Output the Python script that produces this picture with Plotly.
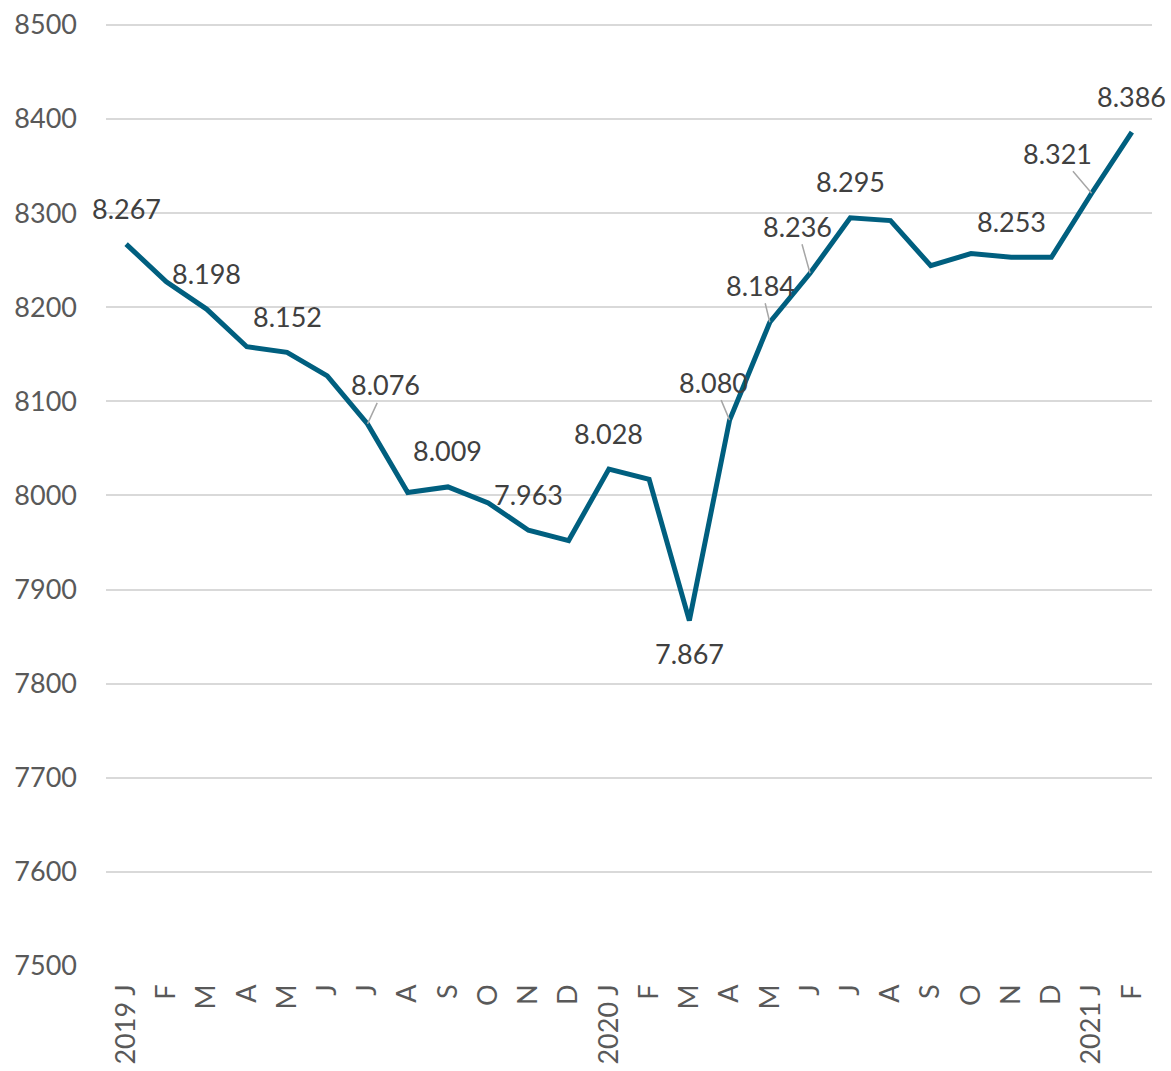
import plotly.graph_objects as go

# Monthly series, Jan 2019 - Feb 2021
months = ["2019 J", "F", "M", "A", "M", "J", "J", "A", "S", "O", "N", "D",
          "2020 J", "F", "M", "A", "M", "J", "J", "A", "S", "O", "N", "D",
          "2021 J", "F"]
values = [8267, 8227, 8198, 8158, 8152, 8127, 8076, 8003, 8009, 7992, 7963, 7952,
          8028, 8017, 7867, 8080, 8184, 8236, 8295, 8292, 8244, 8257, 8253, 8253,
          8321, 8386]

# Points that carry a value label
plain_above = [0, 2, 4, 8, 10, 12, 18, 22, 25]
plain_below = [14]
# label index -> (dx, dy) pixel offset of the label from its point, drawn with a leader line
leader = {6: (18, -39), 15: (-16, -38), 16: (-9, -37), 17: (-13, -47), 24: (-34, -40)}

FONT = "Lato"
x = list(range(len(months)))


def fmt(v):
    return f"{v:,}".replace(",", ".")


fig = go.Figure()
fig.add_trace(go.Scatter(
    x=x, y=values, mode="lines",
    line=dict(color="#005F7F", width=5),
    hoverinfo="skip", showlegend=False,
))

annotations = []
for i in plain_above:
    annotations.append(dict(x=i, y=values[i], text=fmt(values[i]), showarrow=False,
                            yshift=36, font=dict(family=FONT, size=27, color="#404040")))
for i in plain_below:
    annotations.append(dict(x=i, y=values[i], text=fmt(values[i]), showarrow=False,
                            yshift=-33, font=dict(family=FONT, size=27, color="#404040")))
for i, (dx, dy) in leader.items():
    annotations.append(dict(x=i, y=values[i], text=fmt(values[i]), showarrow=True,
                            ax=dx, ay=dy, arrowhead=0, arrowwidth=1.5,
                            arrowcolor="#A6A6A6", standoff=0,
                            font=dict(family=FONT, size=27, color="#404040")))

fig.update_layout(
    width=1171, height=1071,
    margin=dict(l=106, r=19, t=22, b=105),
    plot_bgcolor="white", paper_bgcolor="white",
    annotations=annotations,
    xaxis=dict(
        range=[-0.5, len(months) - 0.5], automargin=False,
        tickmode="array", tickvals=x, ticktext=months,
        tickangle=-90, showgrid=False, zeroline=False, showline=False,
        ticks="", ticklabelstandoff=12,
        tickfont=dict(family=FONT, size=27, color="#595959"),
    ),
    yaxis=dict(
        # a little headroom above 8500 so its gridline is drawn
        range=[7500, 8503], dtick=100, tick0=7500, automargin=False,
        showgrid=True, gridcolor="#D9D9D9", gridwidth=1.5,
        zeroline=False, showline=False, ticks="",
        ticklabelstandoff=28,
        tickfont=dict(family=FONT, size=27, color="#595959"),
    ),
)

fig.write_html("out.html")
